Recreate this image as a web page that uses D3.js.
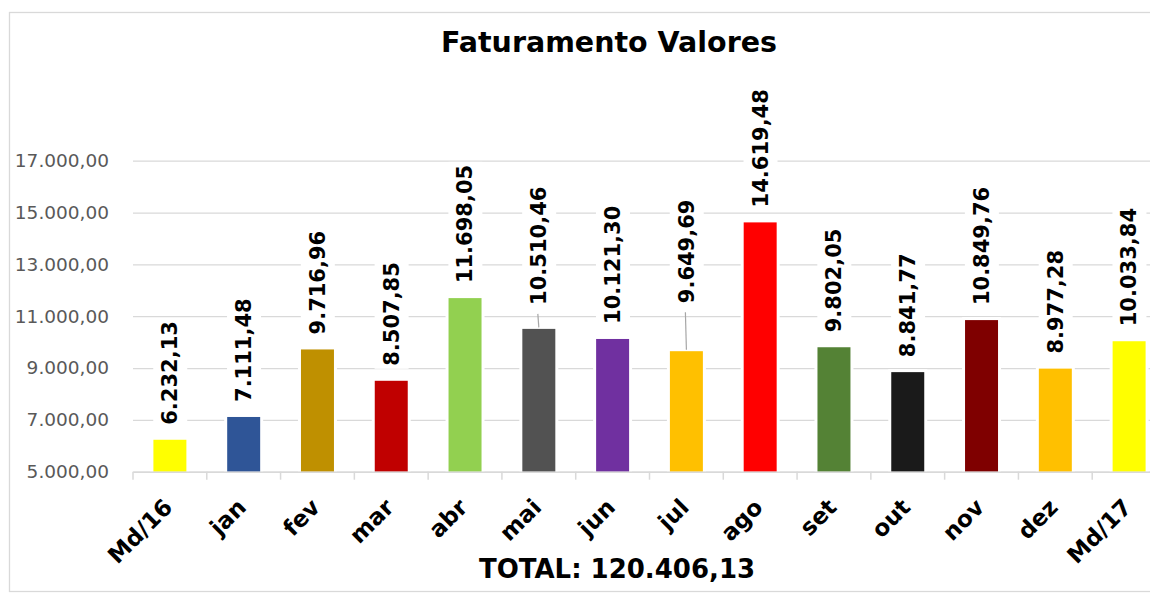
<!DOCTYPE html>
<html>
<head>
<meta charset="utf-8">
<script src="https://cdnjs.cloudflare.com/ajax/libs/d3/7.8.5/d3.min.js"></script>
<style>
  body { margin: 0; background: #fff; overflow: hidden; }
  svg { display: block; }
</style>
</head>
<body>
<script>
// dados
const categories = ["Md/16", "jan", "fev", "mar", "abr", "mai", "jun", "jul", "ago", "set", "out", "nov", "dez", "Md/17"];
const values = [6232.13, 7111.48, 9716.96, 8507.85, 11698.05, 10510.46, 10121.30, 9649.69, 14619.48, 9802.05, 8841.77, 10849.76, 8977.28, 10033.84];
const barColors = ["#FFFF00", "#2F5597", "#BF9000", "#C00000", "#92D050", "#525252", "#7030A0", "#FFC000", "#FF0000", "#548235", "#1A1A1A", "#7F0000", "#FFC000", "#FFFF00"];
const yTicks = [5000, 7000, 9000, 11000, 13000, 15000, 17000];
const months = categories.slice(1, 13);

// labels moved by hand in the original (with leader line)
const movedLabels = { mai: 24, jul: 48 };
const labelGap = 15;

const W = 1150, H = 594;
const plotLeft = 133, plotRight = 1166, plotTop = 160.7, plotBottom = 471.7;

const br = d3.formatLocale({ decimal: ",", thousands: ".", grouping: [3], currency: ["R$", ""] });
const fmt = br.format(",.2f");

var svg = d3.select("body").append("svg")
    .attr("width", W)
    .attr("height", H);

// chart frame (right side is cut off in the original)
svg.append("rect")
    .attr("x", 9.5).attr("y", 12.5)
    .attr("width", 1250).attr("height", 579)
    .attr("fill", "#fff")
    .attr("stroke", "#D9D9D9")
    .attr("stroke-width", 1.3);

var x = d3.scaleBand()
    .domain(categories)
    .range([plotLeft, plotRight])
    .paddingInner(0.553)
    .paddingOuter(0.2765);

var y = d3.scaleLinear()
    .domain([5000, 17000])
    .range([plotBottom, plotTop]);

// y axis + gridlines
var yAxis = svg.append("g")
    .attr("transform", "translate(" + plotLeft + ",0)")
    .call(d3.axisLeft(y).tickValues(yTicks).tickFormat(fmt).tickSize(-(plotRight - plotLeft)).tickPadding(24));
yAxis.select(".domain").remove();
yAxis.selectAll(".tick line").attr("stroke", "#D9D9D9").attr("stroke-width", 1.3);
yAxis.selectAll(".tick text")
    .attr("fill", "#595959")
    .style("font-family", "'DejaVu Sans', sans-serif")
    .style("font-size", "18.5px");

// white halo behind the bars (hides the gridlines a bit)
svg.selectAll(".halo")
    .data(values)
    .enter()
    .append("rect")
    .attr("class", "halo")
    .attr("x", function(d, i) { return x(categories[i]) - 3; })
    .attr("y", function(d) { return y(d) - 3; })
    .attr("width", x.bandwidth() + 6)
    .attr("height", function(d) { return plotBottom - y(d) + 3; })
    .attr("fill", "#fff");

svg.selectAll(".bar")
    .data(values)
    .enter()
    .append("rect")
    .attr("class", "bar")
    .attr("x", function(d, i) { return x(categories[i]); })
    .attr("y", function(d) { return y(d); })
    .attr("width", x.bandwidth())
    .attr("height", function(d) { return plotBottom - y(d); })
    .attr("fill", function(d, i) { return barColors[i]; });

// x axis
var xAxis = svg.append("g")
    .attr("transform", "translate(0," + plotBottom + ")")
    .call(d3.axisBottom(x).tickSize(0).tickFormat(""));
xAxis.select(".domain").attr("stroke", "#D9D9D9").attr("stroke-width", 1.5);

// tick marks between the categories
svg.selectAll(".xtick")
    .data(d3.range(categories.length + 1))
    .enter()
    .append("line")
    .attr("class", "xtick")
    .attr("x1", function(i) { return plotLeft + i * x.step(); })
    .attr("x2", function(i) { return plotLeft + i * x.step(); })
    .attr("y1", plotBottom)
    .attr("y2", plotBottom + 8)
    .attr("stroke", "#D9D9D9")
    .attr("stroke-width", 1.5);

svg.selectAll(".xlabel")
    .data(categories)
    .enter()
    .append("text")
    .attr("class", "xlabel")
    .attr("transform", function(d) {
        return "translate(" + (x(d) + x.bandwidth() / 2 + 4) + "," + (plotBottom + 37) + ") rotate(-45)";
    })
    .attr("text-anchor", "end")
    .style("font-family", "'DejaVu Sans', sans-serif")
    .style("font-weight", "bold")
    .style("font-size", "23px")
    .text(function(d) { return d; });

// data labels
function labelLift(i) {
    var m = movedLabels[categories[i]];
    return m ? m : labelGap;
}

var labels = svg.selectAll(".vlabel")
    .data(values)
    .enter()
    .append("g")
    .attr("class", "vlabel")
    .attr("transform", function(d, i) {
        return "translate(" + (x(categories[i]) + x.bandwidth() / 2) + "," + (y(d) - labelLift(i)) + ") rotate(-90)";
    });

// leader lines for the moved labels
svg.selectAll(".leader")
    .data(values.map(function(d, i) { return i; }).filter(function(i) { return movedLabels[categories[i]]; }))
    .enter()
    .append("line")
    .attr("class", "leader")
    .attr("x1", function(i) { return x(categories[i]) + x.bandwidth() / 2 - 1; })
    .attr("x2", function(i) { return x(categories[i]) + x.bandwidth() / 2; })
    .attr("y1", function(i) { return y(values[i]) - labelLift(i) + 9; })
    .attr("y2", function(i) { return y(values[i]) - 1.5; })
    .attr("stroke", "#A6A6A6")
    .attr("stroke-width", 1.2);

labels.append("rect").attr("class", "lbox").attr("fill", "#fff");
labels.append("text")
    .attr("x", 0)
    .attr("y", 0)
    .attr("dy", "0.35em")
    .attr("text-anchor", "start")
    .style("font-family", "'DejaVu Sans', sans-serif")
    .style("font-weight", "bold")
    .style("font-size", "21px")
    .attr("fill", "#000")
    .text(function(d) { return fmt(d); });

labels.each(function() {
    var g = d3.select(this);
    var bb = g.select("text").node().getBBox();
    g.select("rect")
        .attr("x", bb.x - 3)
        .attr("y", bb.y - 5)
        .attr("width", bb.width + 6)
        .attr("height", bb.height + 10);
});

// title
svg.append("text")
    .attr("x", 609)
    .attr("y", 52)
    .attr("text-anchor", "middle")
    .style("font-family", "'DejaVu Sans', sans-serif")
    .style("font-weight", "bold")
    .style("font-size", "28.5px")
    .text("Faturamento Valores");

// total
var total = d3.sum(months, function(m) { return values[categories.indexOf(m)]; });
svg.append("text")
    .attr("x", 617)
    .attr("y", 578)
    .attr("text-anchor", "middle")
    .style("font-family", "'DejaVu Sans', sans-serif")
    .style("font-weight", "bold")
    .style("font-size", "26px")
    .text("TOTAL: " + fmt(total));
</script>
</body>
</html>
